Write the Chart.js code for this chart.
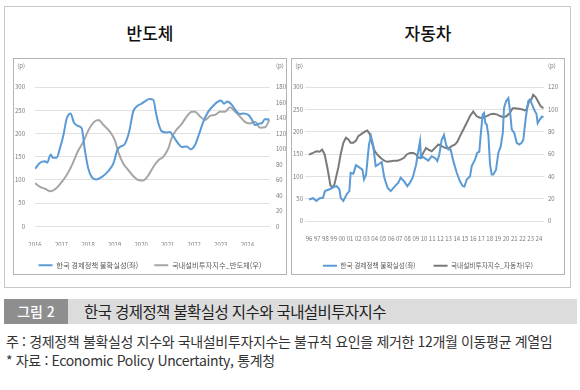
<!DOCTYPE html>
<html lang="ko">
<head>
<meta charset="utf-8">
<title>한국 경제정책 불확실성 지수와 국내설비투자지수</title>
<script src="https://cdn.jsdelivr.net/npm/chart.js@4.4.1/dist/chart.umd.min.js"></script>
<style>
  html, body { margin: 0; padding: 0; background: #fff; }
  body { width: 580px; height: 390px; position: relative; overflow: hidden;
         font-family: 'Noto Sans CJK KR', 'Noto Sans', sans-serif; }
  .frame { position: absolute; left: 4px; top: 6px; width: 567px; height: 282px;
           box-sizing: border-box; border: 1px solid #c8c8c8; }
  .title { position: absolute; top: 22px; width: 274px; text-align: center;
           font-size: 17px; line-height: 22px; font-weight: 500; color: #111; }
  .box { position: absolute; top: 58px; width: 274px; height: 217px;
         box-sizing: border-box; border: 1px solid #b4b4b4; pointer-events: none; }
  canvas { position: absolute; top: 59px; }
  .bar { position: absolute; left: 4px; top: 299px; width: 573px; height: 25px; background: #dcdcdc; }
  .tag { position: absolute; left: 4px; top: 299px; width: 64px; height: 25px; background: #8e8e8e;
         color: #fff; font-size: 14px; font-weight: 500; line-height: 25px; text-align: center; }
  .caption { position: absolute; left: 84px; top: 299px; line-height: 25px; font-size: 15.5px;
             letter-spacing: -0.6px; color: #222; white-space: nowrap; }
  .note { position: absolute; left: 6px; font-size: 14px; line-height: 19px; color: #333;
          letter-spacing: -0.35px; white-space: nowrap; }
</style>
</head>
<body>
<div class="frame"></div>
<div class="title" style="left:13px">반도체</div>
<div class="title" style="left:291px">자동차</div>
<canvas id="semiChart" width="272" height="220" style="left:14px"></canvas>
<canvas id="autoChart" width="272" height="220" style="left:292px"></canvas>
<div class="box" style="left:13px"></div>
<div class="box" style="left:291px"></div>
<div class="bar"></div>
<div class="tag">그림 2</div>
<div class="caption">한국 경제정책 불확실성 지수와 국내설비투자지수</div>
<div class="note" style="top:332px">주 : 경제정책 불확실성 지수와 국내설비투자지수는 불규칙 요인을 제거한 12개월 이동평균 계열임</div>
<div class="note" style="top:351px">* 자료 : Economic Policy Uncertainty, 통계청</div>

<script>
// x-axis ticks
const semiYearTicks = [2016, 2017, 2018, 2019, 2020, 2021, 2022, 2023, 2024];
const semiYearLabels = ['2016', '2017', '2018', '2019', '2020', '2021', '2022', '2023', '2024'];
const autoYearTicks = [1996, 1997, 1998, 1999, 2000, 2001, 2002, 2003, 2004, 2005, 2006, 2007, 2008, 2009,
    2010, 2011, 2012, 2013, 2014, 2015, 2016, 2017, 2018, 2019, 2020, 2021, 2022, 2023, 2024];
const autoYearLabels = ['96', '97', '98', '99', '00', '01', '02', '03', '04', '05', '06', '07', '08', '09',
    '10', '11', '12', '13', '14', '15', '16', '17', '18', '19', '20', '21', '22', '23', '24'];

// 반도체: [year, value]
const semiEpu = [[2016.00, 124], [2016.19, 137], [2016.38, 140], [2016.46, 137], [2016.59, 155], [2016.67, 148],
    [2016.82, 148], [2016.94, 168], [2017.07, 196], [2017.19, 231], [2017.34, 243], [2017.47, 223], [2017.63, 216],
    [2017.76, 211], [2017.88, 164], [2018.01, 124], [2018.14, 106], [2018.32, 101], [2018.51, 106], [2018.76, 119],
    [2018.95, 135], [2019.10, 164], [2019.20, 171], [2019.39, 178], [2019.55, 204], [2019.70, 247], [2019.83, 258],
    [2020.01, 264], [2020.14, 269], [2020.31, 274], [2020.46, 272], [2020.56, 244], [2020.65, 222], [2020.77, 205],
    [2020.96, 202], [2021.09, 203], [2021.21, 194], [2021.40, 178], [2021.53, 171], [2021.72, 172], [2021.87, 166],
    [2022.03, 175], [2022.19, 200], [2022.34, 225], [2022.53, 247], [2022.69, 258], [2022.85, 267], [2023.01, 271],
    [2023.12, 264], [2023.25, 269], [2023.41, 262], [2023.57, 249], [2023.72, 242], [2023.85, 243], [2024.04, 240],
    [2024.16, 231], [2024.29, 218], [2024.42, 221], [2024.54, 222], [2024.67, 231], [2024.75, 230], [2024.83, 231]];
const semiInv = [[2016.00, 56], [2016.19, 51], [2016.38, 48.6], [2016.59, 45.5], [2016.82, 50], [2017.07, 60],
    [2017.29, 72], [2017.44, 83], [2017.63, 98], [2017.82, 109], [2018.01, 124], [2018.20, 134], [2018.39, 137.5],
    [2018.58, 131], [2018.83, 122], [2019.01, 111], [2019.14, 96], [2019.33, 81], [2019.51, 73], [2019.70, 65],
    [2019.89, 60], [2020.08, 59.4], [2020.27, 66], [2020.48, 78], [2020.65, 85.5], [2020.84, 90], [2021.03, 101],
    [2021.15, 114], [2021.32, 124.5], [2021.50, 131], [2021.72, 142], [2021.91, 148], [2022.03, 148], [2022.22, 142],
    [2022.41, 137.5], [2022.60, 142.7], [2022.79, 144], [2022.97, 148], [2023.16, 148], [2023.35, 154], [2023.54, 148],
    [2023.72, 142], [2023.91, 135], [2024.10, 133], [2024.29, 135], [2024.48, 127.5], [2024.67, 128], [2024.83, 137.5]];

// 자동차
const autoEpu = [[1996.0, 48], [1996.5, 51], [1996.9, 45], [1997.3, 51], [1997.7, 52], [1997.95, 67], [1998.5, 71],
    [1998.96, 76], [1999.37, 78], [1999.7, 71], [1999.86, 52], [2000.18, 45], [2000.59, 60], [2000.91, 67],
    [2001.07, 108], [2001.4, 106], [2001.72, 125], [2002.2, 119], [2002.5, 115], [2002.7, 93], [2002.95, 104],
    [2003.3, 171], [2003.55, 190], [2003.8, 171], [2004.12, 123], [2004.4, 126], [2004.85, 132], [2005.17, 97],
    [2005.58, 74], [2005.95, 67], [2006.47, 78], [2006.88, 86], [2007.16, 97], [2007.57, 89], [2007.97, 78],
    [2008.3, 86], [2008.63, 97], [2009.04, 126], [2009.3, 156], [2009.52, 179], [2009.64, 141], [2009.92, 143],
    [2010.3, 138], [2010.53, 135], [2010.94, 145], [2011.35, 141], [2011.63, 134], [2011.87, 149], [2012.16, 182],
    [2012.44, 193], [2012.69, 171], [2012.97, 160], [2013.25, 160], [2013.58, 134], [2013.99, 108], [2014.39, 89],
    [2014.72, 78], [2014.93, 77], [2015.21, 93], [2015.61, 100], [2015.82, 123], [2016.22, 138], [2016.5, 153],
    [2016.74, 155], [2016.91, 193], [2017.15, 238], [2017.32, 242], [2017.48, 219], [2017.64, 216], [2017.84, 193],
    [2018.05, 126], [2018.25, 104], [2018.45, 104], [2018.78, 115], [2019.06, 153], [2019.35, 167], [2019.6, 197],
    [2019.75, 253], [2020.0, 268], [2020.28, 275], [2020.48, 246], [2020.69, 205], [2021.0, 197], [2021.3, 175],
    [2021.6, 171], [2021.9, 175], [2022.1, 182], [2022.4, 231], [2022.7, 268], [2022.9, 272], [2023.1, 264],
    [2023.5, 246], [2023.7, 240], [2023.85, 219], [2024.1, 227], [2024.38, 234], [2024.55, 232]];
const autoInv = [[1996.0, 59.6], [1996.5, 61], [1996.9, 62.5], [1997.3, 62], [1997.6, 64], [1997.9, 59.6],
    [1998.2, 49], [1998.45, 38.7], [1998.6, 32], [1998.86, 30], [1999.1, 33], [1999.57, 48], [1999.86, 60],
    [2000.18, 70], [2000.5, 74.5], [2000.8, 73], [2001.07, 70], [2001.4, 70], [2001.72, 72], [2002.0, 76],
    [2002.4, 78], [2002.8, 80], [2003.1, 81], [2003.4, 78], [2003.6, 71.5], [2004.0, 62.5], [2004.3, 59.6],
    [2004.7, 56.6], [2005.17, 54], [2005.5, 53], [2005.95, 53.6], [2006.35, 54], [2006.76, 54], [2007.16, 55],
    [2007.57, 56.6], [2007.9, 59.6], [2008.3, 61], [2008.7, 61], [2009.04, 59.6], [2009.3, 56.6], [2009.6, 56.6],
    [2009.92, 61], [2010.25, 65.5], [2010.53, 64], [2010.94, 62.5], [2011.35, 65.5], [2011.75, 68.5], [2012.16, 67],
    [2012.56, 65.5], [2012.97, 65], [2013.38, 67], [2013.79, 68.5], [2014.07, 71], [2014.39, 76], [2014.8, 82],
    [2015.21, 88], [2015.61, 94], [2016.0, 98], [2016.4, 94], [2016.8, 92.5], [2017.2, 92.5], [2017.64, 94],
    [2018.05, 95.5], [2018.45, 96], [2018.86, 95.5], [2019.27, 94], [2019.68, 93], [2020.08, 94], [2020.48, 97],
    [2020.8, 101], [2021.1, 101], [2021.5, 100.6], [2021.9, 100], [2022.3, 99], [2022.5, 100], [2022.8, 107],
    [2023.1, 109], [2023.3, 113], [2023.6, 111], [2023.9, 107], [2024.2, 103], [2024.55, 101]];

const EPU_BLUE = '#5b9bd5';
const TICK_GRAY = '#7a7a7a';
const GRID_GRAY = '#e1e1e1';
const FONT = "'Noto Sans CJK KR', 'Noto Sans', sans-serif";

// "(p)" unit marks above both y axes
const unitMarks = {
    id: 'unitMarks',
    afterDraw(chart, args, opts) {
        const {ctx, chartArea} = chart;
        ctx.save();
        ctx.font = '6px ' + FONT;
        ctx.fillStyle = TICK_GRAY;
        ctx.textBaseline = 'middle';
        ctx.textAlign = 'right';
        ctx.fillText('(p)', chartArea.left - opts.leftPad, chartArea.top - 21);
        ctx.textAlign = 'left';
        ctx.fillText('(p)', chartArea.right + opts.rightPad, chartArea.top - 21);
        ctx.restore();
    }
};

function toPoints(pairs) {
    return pairs.map(([x, y]) => ({x, y}));
}

function buildChart(id, o) {
    const tickFont = {family: FONT, size: 6};
    return new Chart(document.getElementById(id), {
        type: 'line',
        data: {
            datasets: [
                {
                    label: '한국 경제정책 불확실성(좌)',
                    data: toPoints(o.epu),
                    borderColor: EPU_BLUE,
                    backgroundColor: EPU_BLUE,
                    borderWidth: 2,
                    pointRadius: 0,
                    cubicInterpolationMode: o.smooth ? 'monotone' : 'default',
                    yAxisID: 'y'
                },
                {
                    label: o.invLabel,
                    data: toPoints(o.inv),
                    borderColor: o.invColor,
                    backgroundColor: o.invColor,
                    borderWidth: 2,
                    pointRadius: 0,
                    cubicInterpolationMode: o.smooth ? 'monotone' : 'default',
                    yAxisID: 'y1'
                }
            ]
        },
        options: {
            responsive: false,
            animation: false,
            devicePixelRatio: 1,
            layout: {padding: {top: 28, left: 0, right: 0, bottom: 0}},
            plugins: {
                tooltip: {enabled: false},
                unitMarks: {leftPad: o.leftPad, rightPad: o.rightPad},
                legend: {
                    position: 'bottom',
                    labels: {
                        usePointStyle: true,
                        pointStyle: 'line',
                        pointStyleWidth: 14,
                        color: '#595959',
                        font: {family: FONT, size: o.legendSize},
                        padding: o.legendGap
                    }
                }
            },
            scales: {
                x: {
                    type: 'linear',
                    min: o.xMin,
                    max: o.xMax,
                    afterBuildTicks: s => { s.ticks = o.yearTicks.map(v => ({value: v})); },
                    afterFit: s => { s.height = o.xHeight; },
                    ticks: {
                        callback: (v, i) => o.yearLabels[i],
                        autoSkip: false,
                        maxRotation: 0,
                        color: TICK_GRAY,
                        font: tickFont,
                        padding: o.xPad
                    },
                    grid: {display: false},
                    border: {display: false}
                },
                y: {
                    position: 'left',
                    min: 0,
                    max: 300,
                    afterFit: s => { s.width = o.leftWidth; },
                    ticks: {stepSize: 50, color: TICK_GRAY, font: tickFont, padding: o.leftPad},
                    grid: {color: GRID_GRAY, drawTicks: false},
                    border: {display: false}
                },
                y1: {
                    position: 'right',
                    min: 0,
                    max: o.rightMax,
                    afterFit: s => { s.width = o.rightWidth; },
                    ticks: {stepSize: 20, color: TICK_GRAY, font: tickFont, padding: o.rightPad},
                    grid: {display: false, drawTicks: false},
                    border: {display: false}
                }
            }
        },
        plugins: [unitMarks]
    });
}

buildChart('semiChart', {
    epu: semiEpu,
    inv: semiInv,
    invLabel: '국내설비투자지수_반도체(우)',
    invColor: '#a6a6a6',
    smooth: true,
    yearTicks: semiYearTicks,
    yearLabels: semiYearLabels,
    xMin: 2016,
    xMax: 2024.855,
    rightMax: 180,
    leftWidth: 21,
    rightWidth: 16,
    leftPad: 10,
    rightPad: 6,
    xHeight: 19.3,
    xPad: 7,
    legendSize: 7.3,
    legendGap: 16
});

buildChart('autoChart', {
    epu: autoEpu,
    inv: autoInv,
    invLabel: '국내설비투자지수_자동차(우)',
    invColor: '#7a7a7a',
    smooth: false,
    yearTicks: autoYearTicks,
    yearLabels: autoYearLabels,
    xMin: 1995.51,
    xMax: 2024.62,
    rightMax: 120,
    leftWidth: 13,
    rightWidth: 20,
    leftPad: 2,
    rightPad: 4,
    xHeight: 23.3,
    xPad: 6,
    legendSize: 6.7,
    legendGap: 18
});
</script>
</body>
</html>
